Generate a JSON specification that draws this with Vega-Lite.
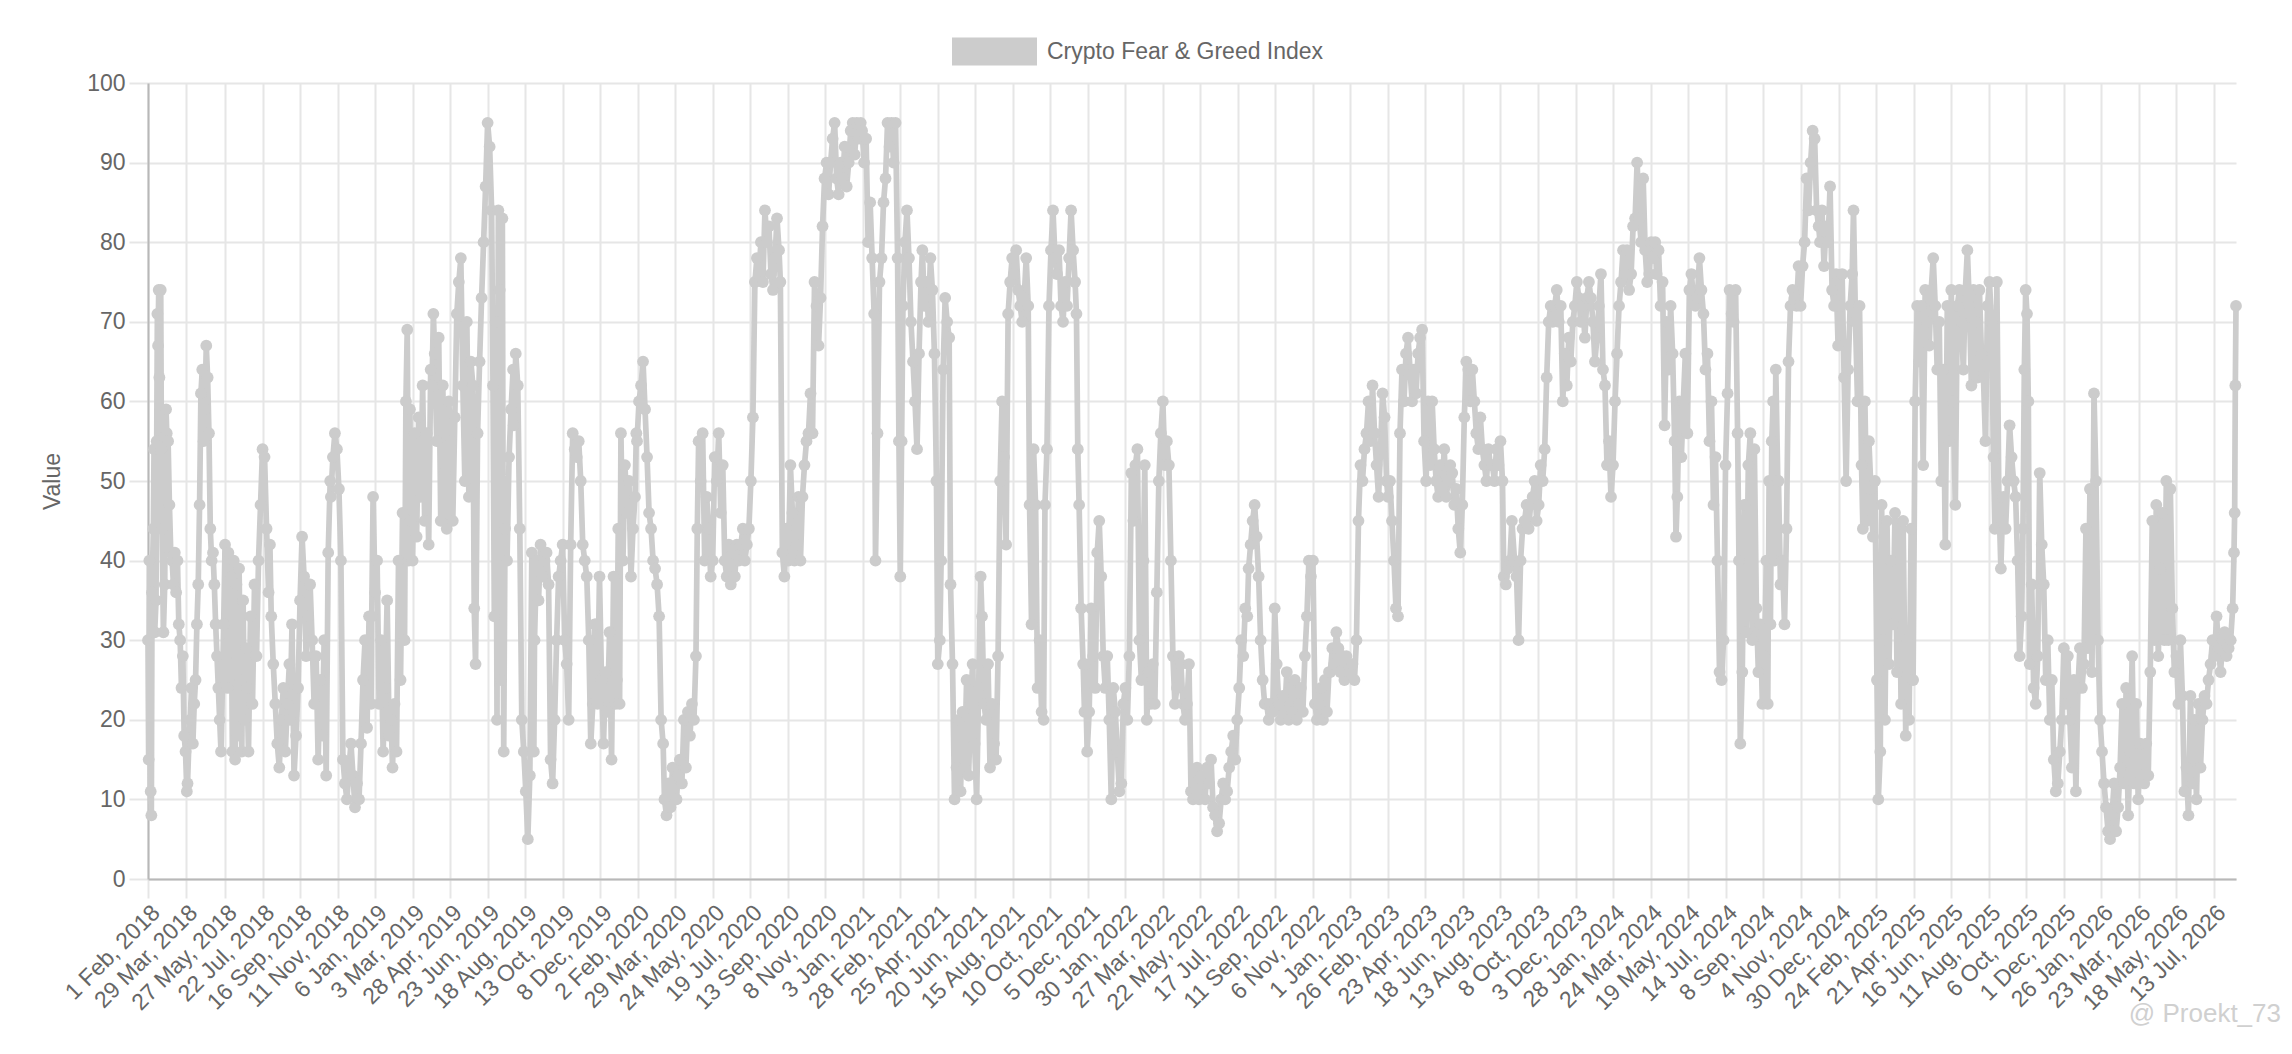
{
  "$schema": "https://vega.github.io/schema/vega-lite/v6.json",
  "width": 2088,
  "height": 796,
  "autosize": {"type": "none"},
  "padding": {"left": 148, "top": 83, "right": 56, "bottom": 175},
  "background": "#ffffff",
  "title": {
    "text": "@ Proekt_73",
    "orient": "bottom",
    "anchor": "end",
    "frame": "group",
    "color": "#d0d0d0",
    "fontSize": 26,
    "fontWeight": "normal",
    "font": "Liberation Sans",
    "offset": -14,
    "dx": 45
  },
  "data": {
    "values": [
      {"d":"2018-02-01","v":30},{"d":"2018-02-02","v":15},{"d":"2018-02-03","v":40},{"d":"2018-02-05","v":11},{"d":"2018-02-06","v":8},{"d":"2018-02-07","v":36},{"d":"2018-02-09","v":44},{"d":"2018-02-10","v":54},{"d":"2018-02-11","v":31},{"d":"2018-02-13","v":35},{"d":"2018-02-14","v":55},{"d":"2018-02-15","v":71},{"d":"2018-02-16","v":67},{"d":"2018-02-17","v":74},{"d":"2018-02-18","v":63},{"d":"2018-02-20","v":74},{"d":"2018-02-21","v":54},{"d":"2018-02-22","v":44},{"d":"2018-02-24","v":31},{"d":"2018-02-26","v":37},{"d":"2018-02-27","v":55},{"d":"2018-02-28","v":59},
      {"d":"2018-03-01","v":56},{"d":"2018-03-03","v":55},{"d":"2018-03-05","v":47},{"d":"2018-03-07","v":41},{"d":"2018-03-09","v":40},{"d":"2018-03-11","v":37},{"d":"2018-03-13","v":41},{"d":"2018-03-15","v":36},{"d":"2018-03-17","v":40},{"d":"2018-03-19","v":32},{"d":"2018-03-21","v":30},{"d":"2018-03-23","v":24},{"d":"2018-03-25","v":28},{"d":"2018-03-27","v":18},{"d":"2018-03-29","v":16},{"d":"2018-03-31","v":11},
      {"d":"2018-04-01","v":12},{"d":"2018-04-03","v":17},{"d":"2018-04-05","v":20},{"d":"2018-04-07","v":24},{"d":"2018-04-09","v":17},{"d":"2018-04-11","v":22},{"d":"2018-04-13","v":25},{"d":"2018-04-15","v":32},{"d":"2018-04-17","v":37},{"d":"2018-04-19","v":47},{"d":"2018-04-21","v":61},{"d":"2018-04-23","v":64},{"d":"2018-04-25","v":55},{"d":"2018-04-27","v":59},{"d":"2018-04-29","v":67},
      {"d":"2018-05-01","v":63},{"d":"2018-05-03","v":56},{"d":"2018-05-05","v":44},{"d":"2018-05-07","v":40},{"d":"2018-05-09","v":41},{"d":"2018-05-11","v":37},{"d":"2018-05-13","v":32},{"d":"2018-05-15","v":28},{"d":"2018-05-17","v":24},{"d":"2018-05-19","v":20},{"d":"2018-05-21","v":16},{"d":"2018-05-23","v":24},{"d":"2018-05-25","v":32},{"d":"2018-05-27","v":42},{"d":"2018-05-29","v":28},{"d":"2018-05-31","v":24},
      {"d":"2018-06-01","v":41},{"d":"2018-06-03","v":30},{"d":"2018-06-05","v":38},{"d":"2018-06-07","v":16},{"d":"2018-06-09","v":40},{"d":"2018-06-11","v":15},{"d":"2018-06-13","v":37},{"d":"2018-06-15","v":18},{"d":"2018-06-17","v":39},{"d":"2018-06-19","v":25},{"d":"2018-06-21","v":16},{"d":"2018-06-23","v":35},{"d":"2018-06-25","v":20},{"d":"2018-06-27","v":29},{"d":"2018-06-29","v":24},
      {"d":"2018-07-01","v":16},{"d":"2018-07-04","v":33},{"d":"2018-07-07","v":22},{"d":"2018-07-10","v":37},{"d":"2018-07-13","v":28},{"d":"2018-07-16","v":40},{"d":"2018-07-19","v":47},{"d":"2018-07-22","v":54},{"d":"2018-07-25","v":53},{"d":"2018-07-28","v":44},{"d":"2018-07-31","v":36},
      {"d":"2018-08-02","v":42},{"d":"2018-08-04","v":33},{"d":"2018-08-07","v":27},{"d":"2018-08-10","v":22},{"d":"2018-08-13","v":17},{"d":"2018-08-16","v":14},{"d":"2018-08-19","v":20},{"d":"2018-08-22","v":24},{"d":"2018-08-25","v":16},{"d":"2018-08-28","v":22},{"d":"2018-08-31","v":27},
      {"d":"2018-09-01","v":20},{"d":"2018-09-04","v":32},{"d":"2018-09-07","v":13},{"d":"2018-09-10","v":18},{"d":"2018-09-13","v":24},{"d":"2018-09-16","v":35},{"d":"2018-09-19","v":43},{"d":"2018-09-22","v":38},{"d":"2018-09-25","v":28},{"d":"2018-09-28","v":33},
      {"d":"2018-10-01","v":37},{"d":"2018-10-04","v":30},{"d":"2018-10-07","v":22},{"d":"2018-10-10","v":28},{"d":"2018-10-13","v":15},{"d":"2018-10-16","v":25},{"d":"2018-10-19","v":18},{"d":"2018-10-22","v":30},{"d":"2018-10-25","v":13},{"d":"2018-10-28","v":41},{"d":"2018-10-31","v":50},
      {"d":"2018-11-01","v":48},{"d":"2018-11-04","v":53},{"d":"2018-11-07","v":56},{"d":"2018-11-10","v":54},{"d":"2018-11-13","v":49},{"d":"2018-11-16","v":40},{"d":"2018-11-19","v":15},{"d":"2018-11-22","v":12},{"d":"2018-11-25","v":10},{"d":"2018-11-28","v":14},
      {"d":"2018-12-01","v":17},{"d":"2018-12-04","v":13},{"d":"2018-12-07","v":9},{"d":"2018-12-10","v":12},{"d":"2018-12-13","v":10},{"d":"2018-12-16","v":17},{"d":"2018-12-19","v":25},{"d":"2018-12-22","v":30},{"d":"2018-12-25","v":19},{"d":"2018-12-28","v":33},{"d":"2018-12-31","v":22},
      {"d":"2019-01-01","v":33},{"d":"2019-01-03","v":48},{"d":"2019-01-06","v":36},{"d":"2019-01-09","v":40},{"d":"2019-01-12","v":22},{"d":"2019-01-15","v":30},{"d":"2019-01-18","v":16},{"d":"2019-01-21","v":24},{"d":"2019-01-24","v":35},{"d":"2019-01-27","v":18},{"d":"2019-01-30","v":20},
      {"d":"2019-02-01","v":14},{"d":"2019-02-04","v":22},{"d":"2019-02-07","v":16},{"d":"2019-02-10","v":40},{"d":"2019-02-13","v":25},{"d":"2019-02-16","v":46},{"d":"2019-02-19","v":30},{"d":"2019-02-21","v":60},{"d":"2019-02-23","v":69},{"d":"2019-02-25","v":40},{"d":"2019-02-27","v":59},{"d":"2019-02-28","v":45},
      {"d":"2019-03-03","v":40},{"d":"2019-03-06","v":56},{"d":"2019-03-09","v":43},{"d":"2019-03-12","v":58},{"d":"2019-03-15","v":48},{"d":"2019-03-18","v":62},{"d":"2019-03-21","v":45},{"d":"2019-03-24","v":56},{"d":"2019-03-27","v":42},{"d":"2019-03-30","v":64},
      {"d":"2019-04-01","v":62},{"d":"2019-04-03","v":71},{"d":"2019-04-05","v":66},{"d":"2019-04-08","v":55},{"d":"2019-04-11","v":68},{"d":"2019-04-14","v":45},{"d":"2019-04-17","v":62},{"d":"2019-04-20","v":51},{"d":"2019-04-23","v":44},{"d":"2019-04-26","v":60},{"d":"2019-04-29","v":55},
      {"d":"2019-05-02","v":45},{"d":"2019-05-05","v":58},{"d":"2019-05-08","v":71},{"d":"2019-05-11","v":75},{"d":"2019-05-14","v":78},{"d":"2019-05-17","v":62},{"d":"2019-05-20","v":50},{"d":"2019-05-23","v":70},{"d":"2019-05-26","v":48},{"d":"2019-05-29","v":65},
      {"d":"2019-06-01","v":62},{"d":"2019-06-03","v":34},{"d":"2019-06-05","v":27},{"d":"2019-06-08","v":56},{"d":"2019-06-11","v":65},{"d":"2019-06-14","v":73},{"d":"2019-06-17","v":80},{"d":"2019-06-20","v":87},{"d":"2019-06-23","v":95},{"d":"2019-06-26","v":92},{"d":"2019-06-29","v":84},
      {"d":"2019-07-01","v":62},{"d":"2019-07-03","v":33},{"d":"2019-07-05","v":70},{"d":"2019-07-07","v":20},{"d":"2019-07-09","v":84},{"d":"2019-07-11","v":74},{"d":"2019-07-13","v":25},{"d":"2019-07-15","v":83},{"d":"2019-07-17","v":16},{"d":"2019-07-19","v":44},{"d":"2019-07-22","v":40},{"d":"2019-07-25","v":53},{"d":"2019-07-28","v":59},{"d":"2019-07-31","v":64},
      {"d":"2019-08-01","v":57},{"d":"2019-08-04","v":66},{"d":"2019-08-07","v":62},{"d":"2019-08-10","v":44},{"d":"2019-08-13","v":20},{"d":"2019-08-16","v":16},{"d":"2019-08-19","v":11},{"d":"2019-08-22","v":5},{"d":"2019-08-25","v":13},{"d":"2019-08-28","v":41},{"d":"2019-08-31","v":16},
      {"d":"2019-09-01","v":30},{"d":"2019-09-04","v":40},{"d":"2019-09-07","v":35},{"d":"2019-09-10","v":42},{"d":"2019-09-13","v":38},{"d":"2019-09-16","v":40},{"d":"2019-09-19","v":41},{"d":"2019-09-22","v":37},{"d":"2019-09-25","v":15},{"d":"2019-09-28","v":12},
      {"d":"2019-10-01","v":20},{"d":"2019-10-04","v":30},{"d":"2019-10-07","v":38},{"d":"2019-10-10","v":40},{"d":"2019-10-13","v":42},{"d":"2019-10-16","v":30},{"d":"2019-10-19","v":27},{"d":"2019-10-22","v":20},{"d":"2019-10-25","v":42},{"d":"2019-10-28","v":56},{"d":"2019-10-31","v":54},
      {"d":"2019-11-03","v":53},{"d":"2019-11-06","v":55},{"d":"2019-11-09","v":50},{"d":"2019-11-12","v":42},{"d":"2019-11-15","v":40},{"d":"2019-11-18","v":38},{"d":"2019-11-21","v":30},{"d":"2019-11-24","v":17},{"d":"2019-11-27","v":22},{"d":"2019-11-30","v":32},
      {"d":"2019-12-01","v":32},{"d":"2019-12-04","v":22},{"d":"2019-12-07","v":38},{"d":"2019-12-10","v":25},{"d":"2019-12-13","v":17},{"d":"2019-12-16","v":26},{"d":"2019-12-19","v":21},{"d":"2019-12-22","v":31},{"d":"2019-12-25","v":15},{"d":"2019-12-28","v":38},{"d":"2019-12-31","v":22},
      {"d":"2020-01-02","v":25},{"d":"2020-01-04","v":44},{"d":"2020-01-06","v":22},{"d":"2020-01-08","v":56},{"d":"2020-01-11","v":40},{"d":"2020-01-14","v":52},{"d":"2020-01-17","v":46},{"d":"2020-01-20","v":50},{"d":"2020-01-23","v":38},{"d":"2020-01-26","v":44},{"d":"2020-01-29","v":48},{"d":"2020-01-31","v":56},
      {"d":"2020-02-01","v":55},{"d":"2020-02-04","v":60},{"d":"2020-02-07","v":62},{"d":"2020-02-10","v":65},{"d":"2020-02-13","v":59},{"d":"2020-02-16","v":53},{"d":"2020-02-19","v":46},{"d":"2020-02-22","v":44},{"d":"2020-02-25","v":40},{"d":"2020-02-28","v":39},
      {"d":"2020-03-02","v":37},{"d":"2020-03-05","v":33},{"d":"2020-03-08","v":20},{"d":"2020-03-11","v":17},{"d":"2020-03-13","v":10},{"d":"2020-03-16","v":8},{"d":"2020-03-19","v":12},{"d":"2020-03-22","v":9},{"d":"2020-03-25","v":14},{"d":"2020-03-28","v":12},{"d":"2020-03-31","v":10},
      {"d":"2020-04-02","v":13},{"d":"2020-04-05","v":15},{"d":"2020-04-08","v":12},{"d":"2020-04-11","v":20},{"d":"2020-04-14","v":14},{"d":"2020-04-17","v":21},{"d":"2020-04-20","v":18},{"d":"2020-04-23","v":22},{"d":"2020-04-26","v":20},{"d":"2020-04-29","v":28},
      {"d":"2020-05-01","v":44},{"d":"2020-05-03","v":55},{"d":"2020-05-06","v":50},{"d":"2020-05-09","v":56},{"d":"2020-05-12","v":40},{"d":"2020-05-15","v":48},{"d":"2020-05-18","v":44},{"d":"2020-05-21","v":38},{"d":"2020-05-24","v":40},{"d":"2020-05-27","v":53},{"d":"2020-05-30","v":50},
      {"d":"2020-06-02","v":56},{"d":"2020-06-05","v":46},{"d":"2020-06-08","v":52},{"d":"2020-06-11","v":40},{"d":"2020-06-14","v":38},{"d":"2020-06-17","v":42},{"d":"2020-06-20","v":37},{"d":"2020-06-23","v":41},{"d":"2020-06-26","v":38},{"d":"2020-06-29","v":42},
      {"d":"2020-07-02","v":40},{"d":"2020-07-05","v":42},{"d":"2020-07-08","v":44},{"d":"2020-07-11","v":40},{"d":"2020-07-14","v":42},{"d":"2020-07-17","v":44},{"d":"2020-07-20","v":50},{"d":"2020-07-23","v":58},{"d":"2020-07-26","v":75},{"d":"2020-07-29","v":78},
      {"d":"2020-08-01","v":76},{"d":"2020-08-04","v":80},{"d":"2020-08-07","v":75},{"d":"2020-08-10","v":84},{"d":"2020-08-13","v":80},{"d":"2020-08-16","v":82},{"d":"2020-08-19","v":76},{"d":"2020-08-22","v":74},{"d":"2020-08-25","v":78},{"d":"2020-08-28","v":83},{"d":"2020-08-31","v":79},
      {"d":"2020-09-02","v":75},{"d":"2020-09-05","v":41},{"d":"2020-09-08","v":38},{"d":"2020-09-11","v":44},{"d":"2020-09-14","v":40},{"d":"2020-09-17","v":52},{"d":"2020-09-20","v":46},{"d":"2020-09-23","v":40},{"d":"2020-09-26","v":42},{"d":"2020-09-29","v":48},
      {"d":"2020-10-02","v":40},{"d":"2020-10-05","v":48},{"d":"2020-10-08","v":52},{"d":"2020-10-11","v":55},{"d":"2020-10-14","v":56},{"d":"2020-10-17","v":61},{"d":"2020-10-20","v":56},{"d":"2020-10-23","v":75},{"d":"2020-10-26","v":72},{"d":"2020-10-29","v":67},
      {"d":"2020-11-01","v":73},{"d":"2020-11-04","v":82},{"d":"2020-11-07","v":88},{"d":"2020-11-10","v":90},{"d":"2020-11-13","v":86},{"d":"2020-11-16","v":90},{"d":"2020-11-19","v":93},{"d":"2020-11-22","v":95},{"d":"2020-11-25","v":88},{"d":"2020-11-28","v":86},
      {"d":"2020-12-01","v":90},{"d":"2020-12-04","v":88},{"d":"2020-12-07","v":92},{"d":"2020-12-10","v":87},{"d":"2020-12-13","v":90},{"d":"2020-12-16","v":94},{"d":"2020-12-19","v":95},{"d":"2020-12-22","v":91},{"d":"2020-12-25","v":95},{"d":"2020-12-28","v":93},{"d":"2020-12-31","v":95},
      {"d":"2021-01-02","v":94},{"d":"2021-01-05","v":90},{"d":"2021-01-08","v":93},{"d":"2021-01-11","v":80},{"d":"2021-01-14","v":85},{"d":"2021-01-17","v":78},{"d":"2021-01-20","v":71},{"d":"2021-01-22","v":40},{"d":"2021-01-25","v":56},{"d":"2021-01-28","v":75},{"d":"2021-01-31","v":78},
      {"d":"2021-02-03","v":85},{"d":"2021-02-06","v":88},{"d":"2021-02-09","v":95},{"d":"2021-02-12","v":92},{"d":"2021-02-15","v":95},{"d":"2021-02-18","v":90},{"d":"2021-02-21","v":95},{"d":"2021-02-24","v":78},{"d":"2021-02-26","v":55},{"d":"2021-02-28","v":38},
      {"d":"2021-03-02","v":55},{"d":"2021-03-04","v":72},{"d":"2021-03-07","v":80},{"d":"2021-03-10","v":84},{"d":"2021-03-13","v":78},{"d":"2021-03-16","v":70},{"d":"2021-03-19","v":65},{"d":"2021-03-22","v":60},{"d":"2021-03-25","v":54},{"d":"2021-03-28","v":66},{"d":"2021-03-31","v":75},
      {"d":"2021-04-02","v":79},{"d":"2021-04-05","v":72},{"d":"2021-04-08","v":75},{"d":"2021-04-11","v":70},{"d":"2021-04-14","v":78},{"d":"2021-04-17","v":74},{"d":"2021-04-20","v":66},{"d":"2021-04-23","v":50},{"d":"2021-04-25","v":27},{"d":"2021-04-28","v":30},{"d":"2021-04-30","v":40},
      {"d":"2021-05-03","v":64},{"d":"2021-05-06","v":73},{"d":"2021-05-09","v":70},{"d":"2021-05-12","v":68},{"d":"2021-05-14","v":37},{"d":"2021-05-17","v":27},{"d":"2021-05-20","v":10},{"d":"2021-05-23","v":14},{"d":"2021-05-26","v":20},{"d":"2021-05-29","v":11},
      {"d":"2021-06-01","v":21},{"d":"2021-06-04","v":14},{"d":"2021-06-07","v":25},{"d":"2021-06-10","v":13},{"d":"2021-06-13","v":22},{"d":"2021-06-16","v":27},{"d":"2021-06-19","v":17},{"d":"2021-06-22","v":10},{"d":"2021-06-25","v":24},{"d":"2021-06-28","v":38},{"d":"2021-06-30","v":33},
      {"d":"2021-07-03","v":22},{"d":"2021-07-06","v":20},{"d":"2021-07-09","v":27},{"d":"2021-07-12","v":14},{"d":"2021-07-15","v":22},{"d":"2021-07-18","v":17},{"d":"2021-07-21","v":15},{"d":"2021-07-24","v":28},{"d":"2021-07-27","v":50},{"d":"2021-07-30","v":60},
      {"d":"2021-08-02","v":53},{"d":"2021-08-05","v":42},{"d":"2021-08-08","v":71},{"d":"2021-08-11","v":75},{"d":"2021-08-14","v":78},{"d":"2021-08-17","v":76},{"d":"2021-08-20","v":79},{"d":"2021-08-23","v":74},{"d":"2021-08-26","v":72},{"d":"2021-08-29","v":70},
      {"d":"2021-09-01","v":73},{"d":"2021-09-04","v":78},{"d":"2021-09-07","v":72},{"d":"2021-09-09","v":47},{"d":"2021-09-12","v":32},{"d":"2021-09-15","v":54},{"d":"2021-09-18","v":47},{"d":"2021-09-21","v":24},{"d":"2021-09-24","v":30},{"d":"2021-09-27","v":21},{"d":"2021-09-30","v":20},
      {"d":"2021-10-02","v":47},{"d":"2021-10-05","v":54},{"d":"2021-10-08","v":72},{"d":"2021-10-11","v":79},{"d":"2021-10-14","v":84},{"d":"2021-10-17","v":78},{"d":"2021-10-20","v":76},{"d":"2021-10-23","v":79},{"d":"2021-10-26","v":72},{"d":"2021-10-29","v":70},
      {"d":"2021-11-01","v":75},{"d":"2021-11-04","v":72},{"d":"2021-11-07","v":78},{"d":"2021-11-10","v":84},{"d":"2021-11-13","v":79},{"d":"2021-11-16","v":75},{"d":"2021-11-18","v":71},{"d":"2021-11-20","v":54},{"d":"2021-11-22","v":47},{"d":"2021-11-25","v":34},{"d":"2021-11-28","v":27},{"d":"2021-11-30","v":21},
      {"d":"2021-12-01","v":27},{"d":"2021-12-04","v":16},{"d":"2021-12-07","v":21},{"d":"2021-12-10","v":34},{"d":"2021-12-13","v":28},{"d":"2021-12-16","v":24},{"d":"2021-12-19","v":41},{"d":"2021-12-22","v":45},{"d":"2021-12-25","v":38},{"d":"2021-12-28","v":28},{"d":"2021-12-31","v":24},
      {"d":"2022-01-03","v":28},{"d":"2022-01-06","v":20},{"d":"2022-01-09","v":10},{"d":"2022-01-12","v":24},{"d":"2022-01-15","v":21},{"d":"2022-01-18","v":16},{"d":"2022-01-21","v":11},{"d":"2022-01-24","v":12},{"d":"2022-01-27","v":22},{"d":"2022-01-30","v":24},
      {"d":"2022-02-02","v":20},{"d":"2022-02-05","v":28},{"d":"2022-02-08","v":51},{"d":"2022-02-11","v":45},{"d":"2022-02-14","v":52},{"d":"2022-02-17","v":54},{"d":"2022-02-20","v":30},{"d":"2022-02-23","v":25},{"d":"2022-02-26","v":40},{"d":"2022-02-28","v":52},
      {"d":"2022-03-03","v":20},{"d":"2022-03-06","v":26},{"d":"2022-03-09","v":22},{"d":"2022-03-12","v":27},{"d":"2022-03-15","v":22},{"d":"2022-03-18","v":36},{"d":"2022-03-21","v":50},{"d":"2022-03-24","v":56},{"d":"2022-03-27","v":60},{"d":"2022-03-30","v":52},
      {"d":"2022-04-02","v":55},{"d":"2022-04-05","v":52},{"d":"2022-04-08","v":40},{"d":"2022-04-11","v":28},{"d":"2022-04-14","v":22},{"d":"2022-04-17","v":24},{"d":"2022-04-20","v":28},{"d":"2022-04-23","v":27},{"d":"2022-04-26","v":22},{"d":"2022-04-29","v":20},
      {"d":"2022-05-02","v":22},{"d":"2022-05-05","v":27},{"d":"2022-05-08","v":11},{"d":"2022-05-11","v":10},{"d":"2022-05-14","v":12},{"d":"2022-05-17","v":14},{"d":"2022-05-20","v":10},{"d":"2022-05-23","v":13},{"d":"2022-05-26","v":12},{"d":"2022-05-29","v":10},
      {"d":"2022-06-01","v":14},{"d":"2022-06-04","v":12},{"d":"2022-06-07","v":15},{"d":"2022-06-10","v":9},{"d":"2022-06-13","v":8},{"d":"2022-06-16","v":6},{"d":"2022-06-19","v":7},{"d":"2022-06-22","v":10},{"d":"2022-06-25","v":12},{"d":"2022-06-28","v":10},
      {"d":"2022-07-01","v":11},{"d":"2022-07-04","v":14},{"d":"2022-07-07","v":16},{"d":"2022-07-10","v":18},{"d":"2022-07-13","v":15},{"d":"2022-07-16","v":20},{"d":"2022-07-19","v":24},{"d":"2022-07-22","v":30},{"d":"2022-07-25","v":28},{"d":"2022-07-28","v":34},{"d":"2022-07-31","v":33},
      {"d":"2022-08-02","v":39},{"d":"2022-08-05","v":42},{"d":"2022-08-08","v":45},{"d":"2022-08-11","v":47},{"d":"2022-08-14","v":43},{"d":"2022-08-17","v":38},{"d":"2022-08-20","v":30},{"d":"2022-08-23","v":25},{"d":"2022-08-26","v":22},{"d":"2022-08-29","v":22},
      {"d":"2022-09-01","v":20},{"d":"2022-09-04","v":22},{"d":"2022-09-07","v":21},{"d":"2022-09-10","v":34},{"d":"2022-09-13","v":27},{"d":"2022-09-16","v":22},{"d":"2022-09-19","v":20},{"d":"2022-09-22","v":23},{"d":"2022-09-25","v":21},{"d":"2022-09-28","v":26},
      {"d":"2022-10-01","v":20},{"d":"2022-10-04","v":24},{"d":"2022-10-07","v":21},{"d":"2022-10-10","v":25},{"d":"2022-10-13","v":20},{"d":"2022-10-16","v":22},{"d":"2022-10-19","v":24},{"d":"2022-10-22","v":21},{"d":"2022-10-25","v":28},{"d":"2022-10-28","v":33},{"d":"2022-10-31","v":40},
      {"d":"2022-11-03","v":38},{"d":"2022-11-06","v":40},{"d":"2022-11-09","v":22},{"d":"2022-11-12","v":20},{"d":"2022-11-15","v":22},{"d":"2022-11-18","v":24},{"d":"2022-11-21","v":20},{"d":"2022-11-24","v":25},{"d":"2022-11-27","v":21},{"d":"2022-11-30","v":26},
      {"d":"2022-12-02","v":26},{"d":"2022-12-05","v":29},{"d":"2022-12-08","v":27},{"d":"2022-12-11","v":31},{"d":"2022-12-14","v":29},{"d":"2022-12-17","v":26},{"d":"2022-12-20","v":28},{"d":"2022-12-23","v":25},{"d":"2022-12-26","v":28},{"d":"2022-12-29","v":26},
      {"d":"2023-01-01","v":26},{"d":"2023-01-04","v":27},{"d":"2023-01-07","v":25},{"d":"2023-01-10","v":30},{"d":"2023-01-13","v":45},{"d":"2023-01-16","v":52},{"d":"2023-01-19","v":50},{"d":"2023-01-22","v":54},{"d":"2023-01-25","v":56},{"d":"2023-01-28","v":60},{"d":"2023-01-31","v":55},
      {"d":"2023-02-03","v":62},{"d":"2023-02-06","v":56},{"d":"2023-02-09","v":52},{"d":"2023-02-12","v":48},{"d":"2023-02-15","v":54},{"d":"2023-02-18","v":61},{"d":"2023-02-21","v":58},{"d":"2023-02-24","v":50},{"d":"2023-02-26","v":48},
      {"d":"2023-03-01","v":50},{"d":"2023-03-04","v":45},{"d":"2023-03-07","v":40},{"d":"2023-03-10","v":34},{"d":"2023-03-13","v":33},{"d":"2023-03-16","v":56},{"d":"2023-03-19","v":64},{"d":"2023-03-22","v":60},{"d":"2023-03-25","v":66},{"d":"2023-03-28","v":68},{"d":"2023-03-31","v":64},
      {"d":"2023-04-03","v":60},{"d":"2023-04-06","v":64},{"d":"2023-04-09","v":61},{"d":"2023-04-12","v":66},{"d":"2023-04-15","v":68},{"d":"2023-04-18","v":69},{"d":"2023-04-21","v":55},{"d":"2023-04-24","v":50},{"d":"2023-04-27","v":60},{"d":"2023-04-30","v":52},
      {"d":"2023-05-03","v":60},{"d":"2023-05-06","v":54},{"d":"2023-05-09","v":50},{"d":"2023-05-12","v":48},{"d":"2023-05-15","v":52},{"d":"2023-05-18","v":49},{"d":"2023-05-21","v":54},{"d":"2023-05-24","v":48},{"d":"2023-05-27","v":50},{"d":"2023-05-30","v":52},
      {"d":"2023-06-02","v":51},{"d":"2023-06-05","v":47},{"d":"2023-06-08","v":49},{"d":"2023-06-11","v":44},{"d":"2023-06-14","v":41},{"d":"2023-06-17","v":47},{"d":"2023-06-20","v":58},{"d":"2023-06-23","v":65},{"d":"2023-06-26","v":64},{"d":"2023-06-29","v":60},
      {"d":"2023-07-02","v":64},{"d":"2023-07-05","v":60},{"d":"2023-07-08","v":56},{"d":"2023-07-11","v":54},{"d":"2023-07-14","v":58},{"d":"2023-07-17","v":54},{"d":"2023-07-20","v":52},{"d":"2023-07-23","v":50},{"d":"2023-07-26","v":54},{"d":"2023-07-29","v":52},
      {"d":"2023-08-01","v":52},{"d":"2023-08-04","v":50},{"d":"2023-08-07","v":54},{"d":"2023-08-10","v":52},{"d":"2023-08-13","v":55},{"d":"2023-08-16","v":50},{"d":"2023-08-18","v":38},{"d":"2023-08-21","v":37},{"d":"2023-08-24","v":39},{"d":"2023-08-27","v":40},{"d":"2023-08-30","v":45},
      {"d":"2023-09-03","v":40},{"d":"2023-09-06","v":38},{"d":"2023-09-09","v":30},{"d":"2023-09-12","v":40},{"d":"2023-09-15","v":44},{"d":"2023-09-18","v":45},{"d":"2023-09-21","v":47},{"d":"2023-09-24","v":44},{"d":"2023-09-27","v":47},{"d":"2023-09-30","v":48},
      {"d":"2023-10-03","v":50},{"d":"2023-10-06","v":45},{"d":"2023-10-09","v":47},{"d":"2023-10-12","v":52},{"d":"2023-10-15","v":50},{"d":"2023-10-18","v":54},{"d":"2023-10-21","v":63},{"d":"2023-10-24","v":70},{"d":"2023-10-27","v":72},{"d":"2023-10-30","v":70},
      {"d":"2023-11-02","v":72},{"d":"2023-11-05","v":74},{"d":"2023-11-08","v":70},{"d":"2023-11-11","v":72},{"d":"2023-11-14","v":60},{"d":"2023-11-17","v":66},{"d":"2023-11-20","v":62},{"d":"2023-11-23","v":68},{"d":"2023-11-26","v":65},{"d":"2023-11-29","v":70},
      {"d":"2023-12-02","v":72},{"d":"2023-12-05","v":75},{"d":"2023-12-08","v":73},{"d":"2023-12-11","v":70},{"d":"2023-12-14","v":72},{"d":"2023-12-17","v":68},{"d":"2023-12-20","v":73},{"d":"2023-12-23","v":75},{"d":"2023-12-26","v":73},{"d":"2023-12-29","v":70},
      {"d":"2024-01-01","v":65},{"d":"2024-01-04","v":68},{"d":"2024-01-07","v":72},{"d":"2024-01-10","v":76},{"d":"2024-01-13","v":64},{"d":"2024-01-16","v":62},{"d":"2024-01-19","v":52},{"d":"2024-01-22","v":55},{"d":"2024-01-25","v":48},{"d":"2024-01-28","v":52},{"d":"2024-01-31","v":60},
      {"d":"2024-02-03","v":66},{"d":"2024-02-06","v":72},{"d":"2024-02-09","v":75},{"d":"2024-02-12","v":79},{"d":"2024-02-15","v":76},{"d":"2024-02-18","v":79},{"d":"2024-02-21","v":74},{"d":"2024-02-24","v":76},{"d":"2024-02-27","v":82},
      {"d":"2024-03-01","v":83},{"d":"2024-03-04","v":90},{"d":"2024-03-07","v":83},{"d":"2024-03-10","v":80},{"d":"2024-03-13","v":88},{"d":"2024-03-16","v":79},{"d":"2024-03-19","v":75},{"d":"2024-03-22","v":76},{"d":"2024-03-25","v":80},{"d":"2024-03-28","v":78},{"d":"2024-03-31","v":80},
      {"d":"2024-04-02","v":76},{"d":"2024-04-05","v":79},{"d":"2024-04-08","v":72},{"d":"2024-04-11","v":75},{"d":"2024-04-14","v":57},{"d":"2024-04-17","v":70},{"d":"2024-04-20","v":64},{"d":"2024-04-23","v":72},{"d":"2024-04-26","v":66},{"d":"2024-04-29","v":55},
      {"d":"2024-05-01","v":43},{"d":"2024-05-03","v":48},{"d":"2024-05-06","v":60},{"d":"2024-05-09","v":53},{"d":"2024-05-12","v":60},{"d":"2024-05-15","v":66},{"d":"2024-05-18","v":56},{"d":"2024-05-21","v":74},{"d":"2024-05-24","v":76},{"d":"2024-05-27","v":73},{"d":"2024-05-30","v":72},
      {"d":"2024-06-02","v":73},{"d":"2024-06-05","v":78},{"d":"2024-06-08","v":74},{"d":"2024-06-11","v":71},{"d":"2024-06-14","v":64},{"d":"2024-06-17","v":66},{"d":"2024-06-20","v":55},{"d":"2024-06-23","v":60},{"d":"2024-06-26","v":47},{"d":"2024-06-29","v":53},
      {"d":"2024-07-02","v":40},{"d":"2024-07-05","v":26},{"d":"2024-07-08","v":25},{"d":"2024-07-11","v":30},{"d":"2024-07-14","v":52},{"d":"2024-07-17","v":61},{"d":"2024-07-20","v":74},{"d":"2024-07-23","v":71},{"d":"2024-07-26","v":70},{"d":"2024-07-29","v":74},
      {"d":"2024-08-01","v":56},{"d":"2024-08-03","v":40},{"d":"2024-08-05","v":17},{"d":"2024-08-08","v":26},{"d":"2024-08-11","v":47},{"d":"2024-08-14","v":31},{"d":"2024-08-17","v":52},{"d":"2024-08-20","v":56},{"d":"2024-08-23","v":30},{"d":"2024-08-26","v":54},{"d":"2024-08-29","v":34},
      {"d":"2024-09-01","v":26},{"d":"2024-09-04","v":32},{"d":"2024-09-07","v":22},{"d":"2024-09-10","v":28},{"d":"2024-09-13","v":40},{"d":"2024-09-15","v":22},{"d":"2024-09-17","v":50},{"d":"2024-09-19","v":32},{"d":"2024-09-21","v":55},{"d":"2024-09-23","v":60},{"d":"2024-09-25","v":40},{"d":"2024-09-27","v":64},{"d":"2024-09-30","v":50},
      {"d":"2024-10-01","v":50},{"d":"2024-10-04","v":37},{"d":"2024-10-07","v":40},{"d":"2024-10-10","v":32},{"d":"2024-10-13","v":44},{"d":"2024-10-16","v":65},{"d":"2024-10-19","v":72},{"d":"2024-10-22","v":74},{"d":"2024-10-25","v":73},{"d":"2024-10-28","v":72},{"d":"2024-10-31","v":77},
      {"d":"2024-11-03","v":72},{"d":"2024-11-06","v":77},{"d":"2024-11-09","v":80},{"d":"2024-11-12","v":88},{"d":"2024-11-15","v":84},{"d":"2024-11-18","v":90},{"d":"2024-11-21","v":94},{"d":"2024-11-24","v":93},{"d":"2024-11-27","v":84},{"d":"2024-11-30","v":82},
      {"d":"2024-12-02","v":80},{"d":"2024-12-05","v":84},{"d":"2024-12-08","v":77},{"d":"2024-12-11","v":82},{"d":"2024-12-14","v":80},{"d":"2024-12-17","v":87},{"d":"2024-12-20","v":74},{"d":"2024-12-23","v":72},{"d":"2024-12-26","v":76},{"d":"2024-12-29","v":67},
      {"d":"2025-01-01","v":72},{"d":"2025-01-04","v":76},{"d":"2025-01-07","v":63},{"d":"2025-01-10","v":50},{"d":"2025-01-13","v":64},{"d":"2025-01-16","v":72},{"d":"2025-01-19","v":76},{"d":"2025-01-21","v":84},{"d":"2025-01-24","v":70},{"d":"2025-01-27","v":60},{"d":"2025-01-30","v":72},
      {"d":"2025-02-02","v":52},{"d":"2025-02-04","v":44},{"d":"2025-02-07","v":60},{"d":"2025-02-10","v":45},{"d":"2025-02-13","v":55},{"d":"2025-02-16","v":49},{"d":"2025-02-19","v":43},{"d":"2025-02-22","v":50},{"d":"2025-02-25","v":25},{"d":"2025-02-27","v":10},
      {"d":"2025-03-02","v":16},{"d":"2025-03-04","v":47},{"d":"2025-03-06","v":30},{"d":"2025-03-09","v":20},{"d":"2025-03-12","v":45},{"d":"2025-03-15","v":27},{"d":"2025-03-18","v":40},{"d":"2025-03-21","v":32},{"d":"2025-03-24","v":46},{"d":"2025-03-27","v":26},{"d":"2025-03-30","v":44},
      {"d":"2025-04-02","v":22},{"d":"2025-04-05","v":45},{"d":"2025-04-09","v":18},{"d":"2025-04-11","v":30},{"d":"2025-04-14","v":20},{"d":"2025-04-17","v":44},{"d":"2025-04-20","v":25},{"d":"2025-04-23","v":60},{"d":"2025-04-26","v":72},{"d":"2025-04-29","v":65},
      {"d":"2025-05-02","v":72},{"d":"2025-05-05","v":52},{"d":"2025-05-08","v":74},{"d":"2025-05-11","v":70},{"d":"2025-05-14","v":67},{"d":"2025-05-17","v":74},{"d":"2025-05-20","v":78},{"d":"2025-05-23","v":72},{"d":"2025-05-26","v":64},{"d":"2025-05-29","v":70},
      {"d":"2025-06-01","v":50},{"d":"2025-06-04","v":64},{"d":"2025-06-07","v":42},{"d":"2025-06-10","v":72},{"d":"2025-06-13","v":55},{"d":"2025-06-16","v":74},{"d":"2025-06-19","v":60},{"d":"2025-06-22","v":47},{"d":"2025-06-25","v":72},{"d":"2025-06-28","v":74},
      {"d":"2025-07-01","v":70},{"d":"2025-07-04","v":64},{"d":"2025-07-07","v":74},{"d":"2025-07-10","v":79},{"d":"2025-07-13","v":72},{"d":"2025-07-16","v":62},{"d":"2025-07-19","v":74},{"d":"2025-07-22","v":70},{"d":"2025-07-25","v":63},{"d":"2025-07-28","v":74},{"d":"2025-07-31","v":66},
      {"d":"2025-08-03","v":63},{"d":"2025-08-06","v":55},{"d":"2025-08-09","v":72},{"d":"2025-08-12","v":75},{"d":"2025-08-15","v":70},{"d":"2025-08-18","v":53},{"d":"2025-08-20","v":44},{"d":"2025-08-23","v":75},{"d":"2025-08-26","v":48},{"d":"2025-08-29","v":39},{"d":"2025-08-31","v":45},
      {"d":"2025-09-02","v":48},{"d":"2025-09-05","v":44},{"d":"2025-09-08","v":50},{"d":"2025-09-11","v":57},{"d":"2025-09-14","v":53},{"d":"2025-09-17","v":50},{"d":"2025-09-20","v":48},{"d":"2025-09-23","v":40},{"d":"2025-09-26","v":28},{"d":"2025-09-29","v":33},
      {"d":"2025-10-01","v":44},{"d":"2025-10-03","v":64},{"d":"2025-10-05","v":74},{"d":"2025-10-07","v":71},{"d":"2025-10-09","v":60},{"d":"2025-10-11","v":27},{"d":"2025-10-14","v":37},{"d":"2025-10-17","v":24},{"d":"2025-10-20","v":22},{"d":"2025-10-23","v":28},{"d":"2025-10-26","v":51},{"d":"2025-10-29","v":42},
      {"d":"2025-11-01","v":37},{"d":"2025-11-04","v":25},{"d":"2025-11-07","v":30},{"d":"2025-11-10","v":20},{"d":"2025-11-13","v":25},{"d":"2025-11-16","v":15},{"d":"2025-11-19","v":11},{"d":"2025-11-22","v":12},{"d":"2025-11-25","v":16},{"d":"2025-11-28","v":20},
      {"d":"2025-12-01","v":29},{"d":"2025-12-04","v":22},{"d":"2025-12-07","v":28},{"d":"2025-12-10","v":20},{"d":"2025-12-13","v":14},{"d":"2025-12-16","v":25},{"d":"2025-12-19","v":11},{"d":"2025-12-22","v":24},{"d":"2025-12-25","v":29},{"d":"2025-12-28","v":24},{"d":"2025-12-31","v":27},
      {"d":"2026-01-03","v":44},{"d":"2026-01-06","v":29},{"d":"2026-01-09","v":49},{"d":"2026-01-12","v":26},{"d":"2026-01-15","v":61},{"d":"2026-01-18","v":50},{"d":"2026-01-21","v":30},{"d":"2026-01-24","v":20},{"d":"2026-01-27","v":16},{"d":"2026-01-30","v":12},
      {"d":"2026-02-02","v":9},{"d":"2026-02-05","v":6},{"d":"2026-02-08","v":5},{"d":"2026-02-11","v":8},{"d":"2026-02-14","v":12},{"d":"2026-02-17","v":6},{"d":"2026-02-20","v":9},{"d":"2026-02-23","v":14},{"d":"2026-02-26","v":22},
      {"d":"2026-03-01","v":12},{"d":"2026-03-04","v":24},{"d":"2026-03-07","v":8},{"d":"2026-03-10","v":16},{"d":"2026-03-13","v":28},{"d":"2026-03-16","v":12},{"d":"2026-03-19","v":22},{"d":"2026-03-22","v":10},{"d":"2026-03-25","v":17},{"d":"2026-03-28","v":13},{"d":"2026-03-31","v":12},
      {"d":"2026-04-03","v":17},{"d":"2026-04-06","v":13},{"d":"2026-04-09","v":26},{"d":"2026-04-12","v":45},{"d":"2026-04-15","v":30},{"d":"2026-04-18","v":47},{"d":"2026-04-21","v":28},{"d":"2026-04-24","v":39},{"d":"2026-04-27","v":46},{"d":"2026-04-30","v":30},
      {"d":"2026-05-03","v":50},{"d":"2026-05-06","v":30},{"d":"2026-05-09","v":49},{"d":"2026-05-12","v":34},{"d":"2026-05-15","v":26},{"d":"2026-05-18","v":28},{"d":"2026-05-21","v":22},{"d":"2026-05-24","v":30},{"d":"2026-05-27","v":23},{"d":"2026-05-30","v":11},
      {"d":"2026-06-02","v":14},{"d":"2026-06-05","v":8},{"d":"2026-06-08","v":23},{"d":"2026-06-11","v":12},{"d":"2026-06-14","v":20},{"d":"2026-06-17","v":10},{"d":"2026-06-20","v":22},{"d":"2026-06-23","v":14},{"d":"2026-06-26","v":20},{"d":"2026-06-29","v":23},
      {"d":"2026-07-02","v":22},{"d":"2026-07-05","v":25},{"d":"2026-07-08","v":27},{"d":"2026-07-11","v":30},{"d":"2026-07-14","v":28},{"d":"2026-07-17","v":33},{"d":"2026-07-20","v":29},{"d":"2026-07-23","v":26},{"d":"2026-07-26","v":30},{"d":"2026-07-29","v":31},
      {"d":"2026-08-01","v":28},{"d":"2026-08-04","v":29},{"d":"2026-08-07","v":30},{"d":"2026-08-10","v":34},{"d":"2026-08-12","v":41},{"d":"2026-08-13","v":46},{"d":"2026-08-14","v":62},{"d":"2026-08-15","v":72}
    ]
  },
  "encoding": {
    "x": {
      "field": "d",
      "type": "temporal",
      "title": null,
      "scale": {
        "type": "utc",
        "domain": [
          {"year": 2018, "month": 2, "date": 1, "utc": true},
          {"year": 2026, "month": 8, "date": 15, "utc": true}
        ]
      },
      "axis": {
        "format": "%-d %b, %Y",
        "labelAngle": -45,
        "labelOverlap": false,
        "labelFlush": false,
        "labelBound": false,
        "tickSize": 19,
        "labelPadding": 3,
        "values": [
          {"year":2018,"month":2,"date":1,"utc":true},{"year":2018,"month":3,"date":29,"utc":true},{"year":2018,"month":5,"date":27,"utc":true},{"year":2018,"month":7,"date":22,"utc":true},
          {"year":2018,"month":9,"date":16,"utc":true},{"year":2018,"month":11,"date":11,"utc":true},{"year":2019,"month":1,"date":6,"utc":true},{"year":2019,"month":3,"date":3,"utc":true},
          {"year":2019,"month":4,"date":28,"utc":true},{"year":2019,"month":6,"date":23,"utc":true},{"year":2019,"month":8,"date":18,"utc":true},{"year":2019,"month":10,"date":13,"utc":true},
          {"year":2019,"month":12,"date":8,"utc":true},{"year":2020,"month":2,"date":2,"utc":true},{"year":2020,"month":3,"date":29,"utc":true},{"year":2020,"month":5,"date":24,"utc":true},
          {"year":2020,"month":7,"date":19,"utc":true},{"year":2020,"month":9,"date":13,"utc":true},{"year":2020,"month":11,"date":8,"utc":true},{"year":2021,"month":1,"date":3,"utc":true},
          {"year":2021,"month":2,"date":28,"utc":true},{"year":2021,"month":4,"date":25,"utc":true},{"year":2021,"month":6,"date":20,"utc":true},{"year":2021,"month":8,"date":15,"utc":true},
          {"year":2021,"month":10,"date":10,"utc":true},{"year":2021,"month":12,"date":5,"utc":true},{"year":2022,"month":1,"date":30,"utc":true},{"year":2022,"month":3,"date":27,"utc":true},
          {"year":2022,"month":5,"date":22,"utc":true},{"year":2022,"month":7,"date":17,"utc":true},{"year":2022,"month":9,"date":11,"utc":true},{"year":2022,"month":11,"date":6,"utc":true},
          {"year":2023,"month":1,"date":1,"utc":true},{"year":2023,"month":2,"date":26,"utc":true},{"year":2023,"month":4,"date":23,"utc":true},{"year":2023,"month":6,"date":18,"utc":true},
          {"year":2023,"month":8,"date":13,"utc":true},{"year":2023,"month":10,"date":8,"utc":true},{"year":2023,"month":12,"date":3,"utc":true},{"year":2024,"month":1,"date":28,"utc":true},
          {"year":2024,"month":3,"date":24,"utc":true},{"year":2024,"month":5,"date":19,"utc":true},{"year":2024,"month":7,"date":14,"utc":true},{"year":2024,"month":9,"date":8,"utc":true},
          {"year":2024,"month":11,"date":4,"utc":true},{"year":2024,"month":12,"date":30,"utc":true},{"year":2025,"month":2,"date":24,"utc":true},{"year":2025,"month":4,"date":21,"utc":true},
          {"year":2025,"month":6,"date":16,"utc":true},{"year":2025,"month":8,"date":11,"utc":true},{"year":2025,"month":10,"date":6,"utc":true},{"year":2025,"month":12,"date":1,"utc":true},
          {"year":2026,"month":1,"date":26,"utc":true},{"year":2026,"month":3,"date":23,"utc":true},{"year":2026,"month":5,"date":18,"utc":true},{"year":2026,"month":7,"date":13,"utc":true}
        ]
      }
    },
    "y": {
      "field": "v",
      "type": "quantitative",
      "title": "Value",
      "scale": {"domain": [0, 100], "nice": false},
      "axis": {
        "values": [0, 10, 20, 30, 40, 50, 60, 70, 80, 90, 100],
        "tickSize": 19,
        "labelPadding": 4,
        "titlePadding": 22
      }
    }
  },
  "layer": [
    {
      "mark": {"type": "line", "color": "#cccccc", "strokeWidth": 5.7, "strokeJoin": "round"}
    },
    {
      "mark": {"type": "point", "shape": "circle", "filled": true, "size": 139, "opacity": 1},
      "encoding": {
        "color": {
          "datum": "Crypto Fear & Greed Index",
          "scale": {"range": ["#cccccc"]},
          "legend": {
            "orient": "none",
            "legendX": 804,
            "legendY": -74,
            "title": null,
            "padding": 0,
            "symbolType": "M-1,-0.33H1V0.33H-1Z",
            "symbolSize": 7225,
            "symbolStrokeWidth": 0,
            "symbolOpacity": 1,
            "labelOffset": 10,
            "labelLimit": 0,
            "labelFontSize": 23,
            "labelColor": "#666666",
            "labelFont": "Liberation Sans"
          }
        }
      }
    }
  ],
  "config": {
    "font": "Liberation Sans",
    "view": {"stroke": null},
    "axis": {
      "labelFont": "Liberation Sans",
      "titleFont": "Liberation Sans",
      "labelFontSize": 23,
      "titleFontSize": 23,
      "titleFontWeight": "normal",
      "labelColor": "#666666",
      "titleColor": "#666666",
      "grid": true,
      "gridColor": "#e6e6e6",
      "gridWidth": 2,
      "tickColor": "#e6e6e6",
      "tickWidth": 2,
      "domainColor": "#b8b8b8",
      "domainWidth": 2
    }
  }
}
